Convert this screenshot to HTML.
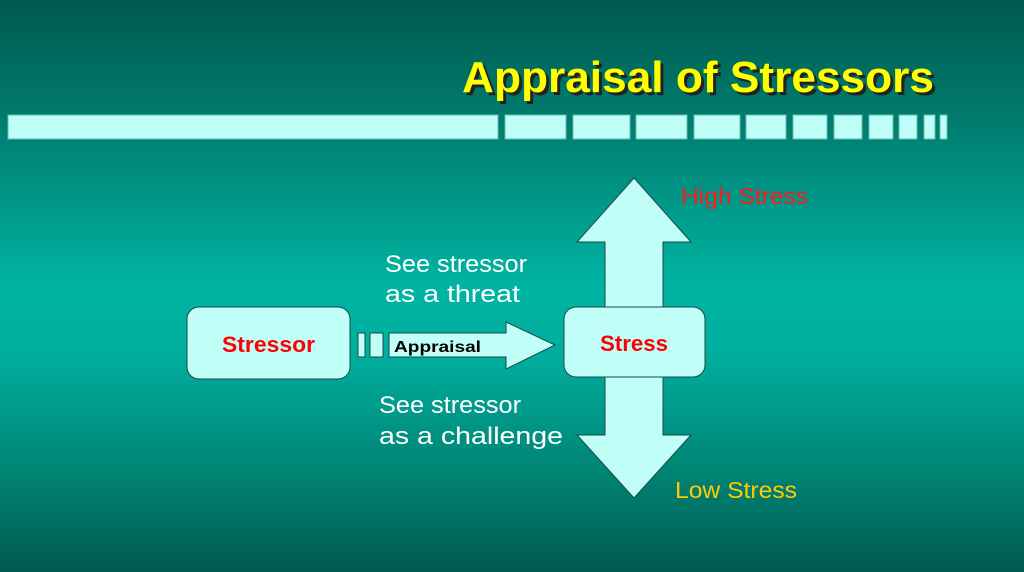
<!DOCTYPE html>
<html><head><meta charset="utf-8"><style>
html,body{margin:0;padding:0;width:1024px;height:572px;overflow:hidden}
svg{display:block}
</style></head><body>
<svg width="1024" height="572" viewBox="0 0 1024 572" xmlns="http://www.w3.org/2000/svg" font-family="'Liberation Sans', sans-serif">
<defs>
<linearGradient id="bg" x1="0" y1="0" x2="0" y2="1">
<stop offset="0" stop-color="#005a50"/>
<stop offset="0.2" stop-color="#007a6c"/>
<stop offset="0.5" stop-color="#00b4a3"/>
<stop offset="0.62" stop-color="#00ae9e"/>
<stop offset="0.82" stop-color="#008575"/>
<stop offset="1" stop-color="#005a50"/>
</linearGradient>
</defs>
<rect width="1024" height="572" fill="url(#bg)"/>
<text x="465" y="95" font-size="44" font-weight="bold" fill="#222" textLength="472" lengthAdjust="spacingAndGlyphs">Appraisal of Stressors</text>
<text x="462" y="92" font-size="44" font-weight="bold" fill="#ffff00" textLength="472" lengthAdjust="spacingAndGlyphs">Appraisal of Stressors</text>
<g fill="#c0fff8" stroke="#5fbfb0" stroke-width="1">
<rect x="8" y="115" width="490" height="24"/>
<rect x="505" y="115" width="61" height="24"/>
<rect x="573" y="115" width="57" height="24"/>
<rect x="636" y="115" width="51" height="24"/>
<rect x="694" y="115" width="46" height="24"/>
<rect x="746" y="115" width="40" height="24"/>
<rect x="793" y="115" width="34" height="24"/>
<rect x="834" y="115" width="28" height="24"/>
<rect x="869" y="115" width="24" height="24"/>
<rect x="899" y="115" width="18" height="24"/>
<rect x="924" y="115" width="11" height="24"/>
<rect x="940" y="115" width="7" height="24"/>
</g>
<g fill="#c0fff8" stroke="#1a4a44" stroke-width="1">
<polygon points="634,178 691,242 663,242 663,435 691,435 634,498 577,435 605,435 605,242 577,242"/>
<rect x="564" y="307" width="141" height="70" rx="12"/>
<rect x="187" y="307" width="163" height="72" rx="12"/>
<rect x="358" y="333" width="7" height="24"/>
<rect x="370" y="333" width="13" height="24"/>
<polygon points="389,333 506,333 506,322 555,345 506,369 506,357 389,357"/>
</g>
<text x="222" y="352" font-size="22" font-weight="bold" fill="#ff0000" textLength="93" lengthAdjust="spacingAndGlyphs">Stressor</text>
<text x="600" y="351" font-size="22" font-weight="bold" fill="#ff0000" textLength="68" lengthAdjust="spacingAndGlyphs">Stress</text>
<text x="394" y="352" font-size="16" font-weight="bold" fill="#000" textLength="87" lengthAdjust="spacingAndGlyphs">Appraisal</text>
<g fill="#ffffff" font-size="24">
<text x="385" y="272" textLength="142" lengthAdjust="spacingAndGlyphs">See stressor</text>
<text x="385" y="302" textLength="135" lengthAdjust="spacingAndGlyphs">as a threat</text>
<text x="379" y="413" textLength="142" lengthAdjust="spacingAndGlyphs">See stressor</text>
<text x="379" y="444" textLength="184" lengthAdjust="spacingAndGlyphs">as a challenge</text>
</g>
<text x="681" y="204" font-size="23" fill="#ff1a1a" textLength="127" lengthAdjust="spacingAndGlyphs">High Stress</text>
<text x="675" y="498" font-size="23" fill="#ffcc00" textLength="122" lengthAdjust="spacingAndGlyphs">Low Stress</text>
</svg>
</body></html>
